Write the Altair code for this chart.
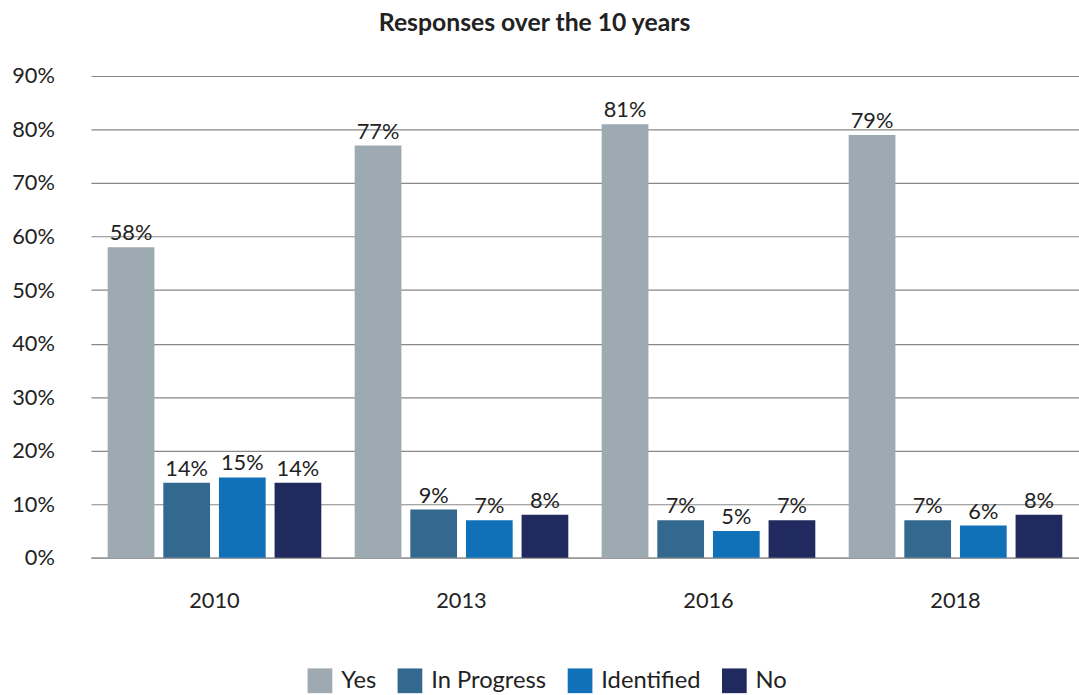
import altair as alt
import pandas as pd

years = ["2010", "2013", "2016", "2018"]
series = ["Yes", "In Progress", "Identified", "No"]
values = {
    "Yes":         [58, 77, 81, 79],
    "In Progress": [14, 9, 7, 7],
    "Identified":  [15, 7, 5, 6],
    "No":          [14, 8, 7, 8],
}
colors = ["#9DAAB1", "#33698F", "#1070B8", "#202A5E"]

rows = []
for s in series:
    for y, v in zip(years, values[s]):
        rows.append({"year": y, "series": s, "value": v / 100, "label": f"{v}%"})
df = pd.DataFrame(rows)

FONT = "Lato"

base = alt.Chart(df).encode(
    x=alt.X("year:N", sort=years, title=None,
            scale=alt.Scale(paddingInner=0, paddingOuter=0),
            axis=alt.Axis(labelAngle=0, labelFontSize=22, labelPadding=33,
                          ticks=False, domain=True, domainColor="#999999",
                          domainWidth=1.5,
                          labelColor="#222222", labelFont=FONT)),
    xOffset=alt.XOffset("series:N", sort=series,
                        scale=alt.Scale(paddingInner=0.16, paddingOuter=0.3)),
    y=alt.Y("value:Q", title=None,
            scale=alt.Scale(domain=[0, 0.9]),
            axis=alt.Axis(format=".0%", values=[i / 10 for i in range(10)],
                          labelFontSize=22, labelPadding=37, ticks=False,
                          domain=False, gridColor="#888888", gridWidth=1.2,
                          labelColor="#222222", labelFont=FONT)),
)

bars = base.mark_bar().encode(
    color=alt.Color("series:N", sort=series,
                    scale=alt.Scale(domain=series, range=colors),
                    legend=alt.Legend(title=None, orient="none", direction="horizontal",
                                      legendX=219, legendY=599,
                                      symbolType="square", symbolSize=625,
                                      symbolStrokeWidth=0, labelFontSize=24,
                                      labelFont=FONT, labelColor="#222222",
                                      columnPadding=21, labelOffset=9,
                                      symbolOpacity=1))
)

text = base.mark_text(baseline="alphabetic", dy=-7, fontSize=22,
                      font=FONT, color="#222222").encode(text="label:N")

chart = (bars + text).properties(
    width=999, height=487,
    title=alt.TitleParams("Responses over the 10 years", fontSize=25,
                          font=FONT, fontWeight="bold", color="#222222",
                          anchor="middle", dx=-51, offset=30),
    autosize=alt.AutoSizeParams(type="none"),
    padding={"left": 92, "top": 73, "right": 0, "bottom": 135},
).configure_view(stroke=None)

chart.save("out.html", embed_options={"renderer": "svg", "actions": False})
